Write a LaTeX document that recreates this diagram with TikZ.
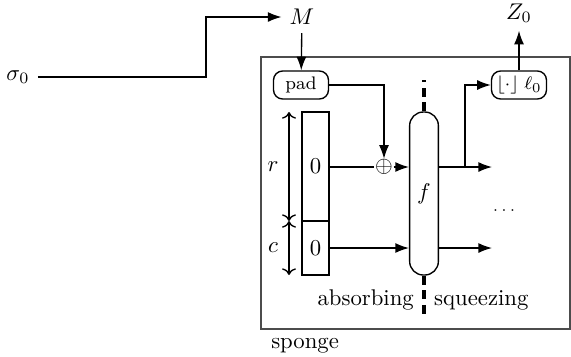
\documentclass[tikz,border=0pt]{standalone}
\usetikzlibrary{arrows.meta,positioning}
\begin{document}
\begin{tikzpicture}[x=0.44pt,y=-0.44pt,line width=0.6pt,
  >={Latex[length=6pt,width=4.4pt]},
  box/.style={draw,rounded corners=4pt,inner sep=0pt,minimum width=55*0.44pt,minimum height=28*0.44pt},
  cell/.style={draw,inner sep=0pt,minimum width=27*0.44pt},
  phase/.style={draw,line width=1.5pt,dash pattern=on 4pt off 2.4pt}]
\useasboundingbox (0,0) rectangle (571,356);

% sponge frame
\draw[black!70] (261,57) rectangle (570,329);
\node[anchor=north west] (sponge) at (263,330) {sponge};

% inputs and outputs
\node (sigma) at (18,77) {$\sigma_0$};
\node (M) at (302,17) {$M$};
\node (Z) at (519,13) {$Z_0$};

\node[box,font=\footnotesize] (pad) at (301,85) {pad};
\node[box,font=\footnotesize] (trunc) at (519,85) {$\lfloor\cdot\rfloor\;\ell_0$};

% state
\node[cell,minimum height=109*0.44pt] (st0) at (315.5,166.5) {0};
\node[cell,minimum height=54*0.44pt] (st1) at (315.5,248) {0};

\node[inner sep=0pt] (xor) at (384,167) {$\oplus$};

\node[draw,rounded corners=6pt,minimum width=28*0.44pt,minimum height=163*0.44pt] (f) at (424,193.5) {$f$};

\node[font=\scriptsize] (dots) at (504,211) {$\cdots$};

\coordinate (bend) at (206,77);
\coordinate (tap) at (465,167);
\coordinate (out0) at (492,167);
\coordinate (out1) at (492,248);

\draw[->] (sigma) -- (bend) |- (M);
\draw[->] (M) -- (pad);
\draw[->] (pad) -| (xor);
\draw (st0.east |- xor) -- (xor);
\draw[->] (xor) -- (f.west |- xor);
\draw[->] (st1) -- (f.west |- st1);
\draw[->] (f.east |- xor) -- (out0);
\draw[->] (f.east |- st1) -- (out1);
\draw[->] (tap) |- (trunc);
\draw[->] (trunc) -- (Z);

% r and c
\draw[{To}-{To}] (289,112) -- (289,221);
\draw[{To}-{To}] (289,221) -- (289,275);
\node (r) at (273,167) {$r$};
\node (c) at (273,248) {$c$};

% phases
\draw[phase] (f.north) -- (424,80);
\draw[phase] (f.south) -- (424,317);
\node[anchor=east,inner sep=2pt] (abs) at (419,300) {absorbing};
\node[anchor=west,inner sep=2pt] (sqz) at (429,300) {squeezing};

\end{tikzpicture}
\end{document}
